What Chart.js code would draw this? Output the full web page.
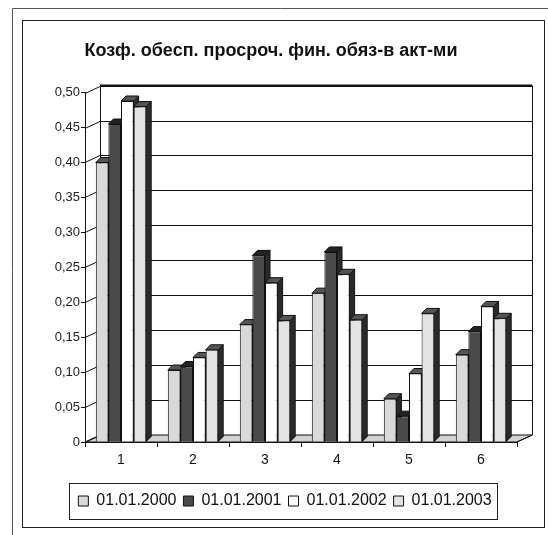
<!DOCTYPE html>
<html>
<head>
<meta charset="utf-8">
<script src="https://cdn.jsdelivr.net/npm/chart.js@4/dist/chart.umd.min.js"></script>
<style>
  html, body { margin: 0; padding: 0; background: #fff; }
  #wrap { width: 548px; height: 535px; }
</style>
</head>
<body>
<div id="wrap"><canvas id="c" width="548" height="535"></canvas></div>
<script>
const categories = ["1", "2", "3", "4", "5", "6"];
const seriesNames = ["01.01.2000", "01.01.2001", "01.01.2002", "01.01.2003"];
const v2000 = [0.400, 0.103, 0.168, 0.213, 0.062, 0.125];
const v2001 = [0.455, 0.108, 0.267, 0.272, 0.037, 0.158];
const v2002 = [0.488, 0.121, 0.228, 0.240, 0.098, 0.194];
const v2003 = [0.480, 0.132, 0.174, 0.175, 0.184, 0.177];
const yTicks = [0, 0.05, 0.10, 0.15, 0.20, 0.25, 0.30, 0.35, 0.40, 0.45, 0.50];

const fills = ["#d9d9d9", "#4a4a4a", "#ffffff", "#e3e3e3"];
const DX = 15, DY = 7;   // back wall offset
const BD = 5;            // bar depth

// back wall, gridlines and floor drawn from the y scale
const wallPlugin = {
  id: "wall",
  afterLayout(chart) {
    // legend sits a bit right of centre in the original
    chart.legend.left += 14;
    chart.legend.right += 14;
  },
  beforeDatasetsDraw(chart) {
    const { ctx, chartArea: a, scales: { y } } = chart;
    ctx.save();
    ctx.strokeStyle = "#111";
    ctx.lineWidth = 1;
    // floor
    ctx.fillStyle = "#d2d2d2";
    ctx.beginPath();
    ctx.moveTo(a.left, a.bottom);
    ctx.lineTo(a.right, a.bottom);
    ctx.lineTo(a.right + DX, a.bottom - DY);
    ctx.lineTo(a.left + DX, a.bottom - DY);
    ctx.closePath();
    ctx.fill();
    ctx.stroke();
    yTicks.forEach(v => {
      const py = Math.round(y.getPixelForValue(v)) + 0.5;
      ctx.beginPath();
      ctx.moveTo(a.left, py);
      ctx.lineTo(a.left + DX, py - DY);
      if (v > 0) ctx.lineTo(a.right + DX, py - DY);
      ctx.stroke();
    });
    ctx.beginPath();
    ctx.moveTo(a.left + DX + 0.5, a.top - DY);
    ctx.lineTo(a.left + DX + 0.5, a.bottom - DY);
    ctx.moveTo(a.right + DX + 0.5, a.top - DY);
    ctx.lineTo(a.right + DX + 0.5, a.bottom - DY);
    ctx.lineTo(a.right, a.bottom);
    ctx.stroke();
    ctx.lineWidth = 2;
    ctx.beginPath();
    ctx.moveTo(a.left + DX, a.top - DY);
    ctx.lineTo(a.right + DX, a.top - DY);
    ctx.stroke();

    // depth faces of bars (fronts drawn by Chart.js on top)
    chart.data.datasets.forEach((ds, di) => {
      const meta = chart.getDatasetMeta(di);
      meta.data.forEach(bar => {
        const p = bar.getProps(["x", "y", "base", "width"], true);
        const l = p.x - p.width / 2, r = p.x + p.width / 2;
        ctx.lineWidth = 1;
        ctx.fillStyle = "#2a2a2a";
        ctx.beginPath();
        ctx.moveTo(r, p.base);
        ctx.lineTo(r, p.y);
        ctx.lineTo(r + BD, p.y - BD);
        ctx.lineTo(r + BD, p.base - BD);
        ctx.closePath();
        ctx.fill();
        ctx.stroke();
        ctx.fillStyle = di === 1 ? "#222" : "#555";
        ctx.beginPath();
        ctx.moveTo(l, p.y);
        ctx.lineTo(l + BD, p.y - BD);
        ctx.lineTo(r + BD, p.y - BD);
        ctx.lineTo(r, p.y);
        ctx.closePath();
        ctx.fill();
        ctx.stroke();
      });
    });
    ctx.restore();
  },
  afterDraw(chart) {
    const { ctx, legend } = chart;
    ctx.save();
    ctx.strokeStyle = "#222";
    ctx.lineWidth = 1;
    // legend frame
    const hb = legend.legendHitBoxes;
    if (hb && hb.length) {
      const l = Math.min(...hb.map(b => b.left)) - 9;
      const r = Math.max(...hb.map(b => b.left + b.width)) + 6;
      ctx.strokeRect(Math.round(l) + 0.5, 483.5, Math.round(r - l), 36);
    }
    // chart frame and page lines
    ctx.strokeRect(22.5, 20.5, 522, 507);
    ctx.strokeStyle = "#555";
    ctx.beginPath();
    ctx.moveTo(12.5, 535);
    ctx.lineTo(12.5, 8.5);
    ctx.lineTo(548, 8.5);
    ctx.stroke();
    ctx.restore();
  }
};

const seriesValues = [v2000, v2001, v2002, v2003];

new Chart(document.getElementById("c"), {
  type: "bar",
  data: {
    labels: categories,
    datasets: seriesNames.map((name, i) => ({
      label: name,
      data: seriesValues[i],
      backgroundColor: fills[i],
      borderColor: "#111",
      borderWidth: 1,
      borderSkipped: "bottom",
      barPercentage: 1.0,
      categoryPercentage: 0.70
    }))
  },
  options: {
    responsive: false,
    animation: false,
    layout: { padding: { left: 25, right: 31, top: 0, bottom: 16 } },
    plugins: {
      title: {
        display: true,
        text: "Козф. обесп. просроч. фин. обяз-в акт-ми",
        color: "#111",
        font: { family: "Liberation Sans, Arial, sans-serif", size: 18, weight: "bold" },
        padding: { top: 40, bottom: 31 }
      },
      legend: {
        position: "bottom",
        labels: {
          color: "#111",
          font: { family: "Liberation Sans, Arial, sans-serif", size: 16 },
          boxWidth: 10,
          boxHeight: 10,
          padding: 7
        }
      },
      tooltip: { enabled: false }
    },
    scales: {
      x: {
        grid: { drawOnChartArea: false, drawTicks: true, tickLength: 5, color: "#111" },
        border: { display: true, color: "#111" },
        ticks: {
          color: "#111",
          padding: 5,
          font: { family: "Liberation Sans, Arial, sans-serif", size: 14 }
        },
        afterFit(s) { s.height = 44; }
      },
      y: {
        min: 0,
        max: 0.5,
        grid: { drawOnChartArea: false, drawTicks: true, tickLength: 4, color: "#111" },
        border: { display: true, color: "#111" },
        afterBuildTicks(s) { s.ticks = yTicks.map(v => ({ value: v })); },
        ticks: {
          color: "#222",
          padding: 1,
          font: { family: "Liberation Sans, Arial, sans-serif", size: 13 },
          callback: v => v === 0 ? "0" : v.toFixed(2).replace(".", ",")
        },
        afterFit(s) { s.width = 60; }
      }
    }
  },
  plugins: [wallPlugin]
});
</script>
</body>
</html>
